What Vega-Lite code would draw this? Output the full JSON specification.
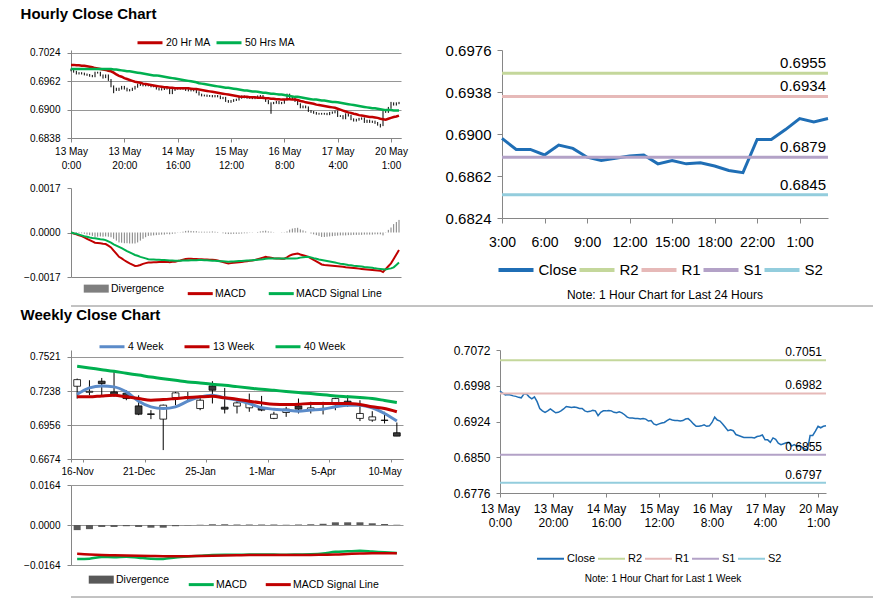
{
"$schema": "https://vega.github.io/schema/vega-lite/v6.json",
"padding": {"left": 20, "top": 6, "right": 5, "bottom": 2},
"config": {
  "font": "Liberation Sans",
  "view": {"stroke": null},
  "axis": {"labelColor": "#000000", "domainColor": "#868686", "tickColor": "#868686", "gridColor": "#969696", "gridOpacity": 1, "gridWidth": 1, "labelFont": "Liberation Sans", "labelOverlap": false},
  "legend": {"labelFont": "Liberation Sans", "labelColor": "#000000", "titleFont": "Liberation Sans", "titleColor": "#000000", "layout": {"top": {"anchor": "middle"}, "bottom": {"anchor": "middle"}}},
  "title": {"font": "Liberation Sans", "color": "#000000"}
},
"datasets": {
"hourly": [
{"i":0,"c":0.6987,"lo":0.6984,"hi":0.6990,"m20":0.6998,"m50":0.6989,"md":0,"sg":0,"dv":0},
{"i":1,"c":0.6983,"lo":0.6981,"hi":0.6989,"m20":0.6998,"m50":0.6989,"md":-0.00004,"sg":-0.00003,"dv":-0.00001},
{"i":2,"c":0.6979,"lo":0.6977,"hi":0.6985,"m20":0.6997,"m50":0.6989,"md":-0.00007,"sg":-0.00005,"dv":-0.00002},
{"i":3,"c":0.6980,"lo":0.6977,"hi":0.6982,"m20":0.6997,"m50":0.6989,"md":-0.00011,"sg":-0.00008,"dv":-0.00003},
{"i":4,"c":0.6979,"lo":0.6977,"hi":0.6982,"m20":0.6996,"m50":0.6989,"md":-0.00014,"sg":-0.00011,"dv":-0.00003},
{"i":5,"c":0.6977,"lo":0.6975,"hi":0.6981,"m20":0.6996,"m50":0.6989,"md":-0.00019,"sg":-0.00014,"dv":-0.00005},
{"i":6,"c":0.6976,"lo":0.6974,"hi":0.6979,"m20":0.6995,"m50":0.6989,"md":-0.00024,"sg":-0.00016,"dv":-0.00008},
{"i":7,"c":0.6974,"lo":0.6972,"hi":0.6978,"m20":0.6994,"m50":0.6989,"md":-0.00029,"sg":-0.00019,"dv":-0.00010},
{"i":8,"c":0.6973,"lo":0.6971,"hi":0.6976,"m20":0.6993,"m50":0.6989,"md":-0.00034,"sg":-0.00021,"dv":-0.00013},
{"i":9,"c":0.6981,"lo":0.6971,"hi":0.6983,"m20":0.6991,"m50":0.6989,"md":-0.00039,"sg":-0.00022,"dv":-0.00017},
{"i":10,"c":0.6981,"lo":0.6979,"hi":0.6983,"m20":0.6990,"m50":0.6989,"md":-0.00040,"sg":-0.00024,"dv":-0.00016},
{"i":11,"c":0.6975,"lo":0.6973,"hi":0.6983,"m20":0.6989,"m50":0.6989,"md":-0.00041,"sg":-0.00026,"dv":-0.00015},
{"i":12,"c":0.6971,"lo":0.6968,"hi":0.6977,"m20":0.6988,"m50":0.6989,"md":-0.00043,"sg":-0.00027,"dv":-0.00016},
{"i":13,"c":0.6975,"lo":0.6969,"hi":0.6977,"m20":0.6987,"m50":0.6989,"md":-0.00044,"sg":-0.00029,"dv":-0.00015},
{"i":14,"c":0.6965,"lo":0.6963,"hi":0.6977,"m20":0.6985,"m50":0.6989,"md":-0.00050,"sg":-0.00034,"dv":-0.00016},
{"i":15,"c":0.6951,"lo":0.6949,"hi":0.6967,"m20":0.6984,"m50":0.6989,"md":-0.00057,"sg":-0.00039,"dv":-0.00018},
{"i":16,"c":0.6946,"lo":0.6936,"hi":0.6953,"m20":0.6981,"m50":0.6988,"md":-0.00069,"sg":-0.00045,"dv":-0.00024},
{"i":17,"c":0.6943,"lo":0.6941,"hi":0.6948,"m20":0.6977,"m50":0.6988,"md":-0.00081,"sg":-0.00050,"dv":-0.00031},
{"i":18,"c":0.6946,"lo":0.6941,"hi":0.6948,"m20":0.6974,"m50":0.6987,"md":-0.00093,"sg":-0.00055,"dv":-0.00038},
{"i":19,"c":0.6950,"lo":0.6944,"hi":0.6952,"m20":0.6972,"m50":0.6986,"md":-0.00099,"sg":-0.00060,"dv":-0.00039},
{"i":20,"c":0.6946,"lo":0.6944,"hi":0.6952,"m20":0.6969,"m50":0.6985,"md":-0.00106,"sg":-0.00065,"dv":-0.00041},
{"i":21,"c":0.6942,"lo":0.6940,"hi":0.6948,"m20":0.6967,"m50":0.6984,"md":-0.00112,"sg":-0.00071,"dv":-0.00041},
{"i":22,"c":0.6943,"lo":0.6940,"hi":0.6945,"m20":0.6965,"m50":0.6984,"md":-0.00118,"sg":-0.00076,"dv":-0.00042},
{"i":23,"c":0.6946,"lo":0.6941,"hi":0.6948,"m20":0.6963,"m50":0.6983,"md":-0.00123,"sg":-0.00081,"dv":-0.00042},
{"i":24,"c":0.6950,"lo":0.6944,"hi":0.6952,"m20":0.6961,"m50":0.6982,"md":-0.00128,"sg":-0.00086,"dv":-0.00042},
{"i":25,"c":0.6955,"lo":0.6948,"hi":0.6957,"m20":0.6960,"m50":0.6981,"md":-0.00127,"sg":-0.00089,"dv":-0.00038},
{"i":26,"c":0.6954,"lo":0.6952,"hi":0.6957,"m20":0.6959,"m50":0.6980,"md":-0.00124,"sg":-0.00093,"dv":-0.00031},
{"i":27,"c":0.6953,"lo":0.6951,"hi":0.6956,"m20":0.6957,"m50":0.6979,"md":-0.00120,"sg":-0.00096,"dv":-0.00024},
{"i":28,"c":0.6954,"lo":0.6951,"hi":0.6956,"m20":0.6956,"m50":0.6978,"md":-0.00117,"sg":-0.00099,"dv":-0.00018},
{"i":29,"c":0.6953,"lo":0.6951,"hi":0.6956,"m20":0.6955,"m50":0.6977,"md":-0.00115,"sg":-0.00102,"dv":-0.00013},
{"i":30,"c":0.6951,"lo":0.6949,"hi":0.6955,"m20":0.6954,"m50":0.6976,"md":-0.00115,"sg":-0.00103,"dv":-0.00012},
{"i":31,"c":0.6951,"lo":0.6949,"hi":0.6953,"m20":0.6953,"m50":0.6975,"md":-0.00114,"sg":-0.00103,"dv":-0.00011},
{"i":32,"c":0.6946,"lo":0.6944,"hi":0.6953,"m20":0.6952,"m50":0.6975,"md":-0.00114,"sg":-0.00104,"dv":-0.00010},
{"i":33,"c":0.6944,"lo":0.6942,"hi":0.6948,"m20":0.6951,"m50":0.6974,"md":-0.00113,"sg":-0.00104,"dv":-0.00009},
{"i":34,"c":0.6945,"lo":0.6942,"hi":0.6947,"m20":0.6950,"m50":0.6973,"md":-0.00113,"sg":-0.00105,"dv":-0.00008},
{"i":35,"c":0.6947,"lo":0.6943,"hi":0.6949,"m20":0.6949,"m50":0.6972,"md":-0.00113,"sg":-0.00105,"dv":-0.00008},
{"i":36,"c":0.6946,"lo":0.6944,"hi":0.6949,"m20":0.6949,"m50":0.6971,"md":-0.00112,"sg":-0.00106,"dv":-0.00006},
{"i":37,"c":0.6936,"lo":0.6934,"hi":0.6948,"m20":0.6948,"m50":0.6970,"md":-0.00114,"sg":-0.00107,"dv":-0.00007},
{"i":38,"c":0.6943,"lo":0.6934,"hi":0.6945,"m20":0.6948,"m50":0.6969,"md":-0.00112,"sg":-0.00107,"dv":-0.00005},
{"i":39,"c":0.6946,"lo":0.6941,"hi":0.6948,"m20":0.6947,"m50":0.6968,"md":-0.00112,"sg":-0.00108,"dv":-0.00004},
{"i":40,"c":0.6946,"lo":0.6944,"hi":0.6948,"m20":0.6947,"m50":0.6967,"md":-0.00109,"sg":-0.00108,"dv":-0.00001},
{"i":41,"c":0.6947,"lo":0.6944,"hi":0.6949,"m20":0.6947,"m50":0.6966,"md":-0.00107,"sg":-0.00108,"dv":0.00001},
{"i":42,"c":0.6946,"lo":0.6944,"hi":0.6949,"m20":0.6947,"m50":0.6965,"md":-0.00104,"sg":-0.00107,"dv":0.00003},
{"i":43,"c":0.6943,"lo":0.6941,"hi":0.6948,"m20":0.6947,"m50":0.6964,"md":-0.00101,"sg":-0.00107,"dv":0.00006},
{"i":44,"c":0.6942,"lo":0.6940,"hi":0.6945,"m20":0.6947,"m50":0.6963,"md":-0.00100,"sg":-0.00107,"dv":0.00007},
{"i":45,"c":0.6944,"lo":0.6940,"hi":0.6946,"m20":0.6946,"m50":0.6962,"md":-0.00100,"sg":-0.00106,"dv":0.00006},
{"i":46,"c":0.6942,"lo":0.6940,"hi":0.6946,"m20":0.6945,"m50":0.6961,"md":-0.00101,"sg":-0.00106,"dv":0.00005},
{"i":47,"c":0.6938,"lo":0.6936,"hi":0.6944,"m20":0.6945,"m50":0.6960,"md":-0.00101,"sg":-0.00106,"dv":0.00005},
{"i":48,"c":0.6933,"lo":0.6931,"hi":0.6940,"m20":0.6944,"m50":0.6958,"md":-0.00102,"sg":-0.00105,"dv":0.00003},
{"i":49,"c":0.6931,"lo":0.6929,"hi":0.6935,"m20":0.6943,"m50":0.6957,"md":-0.00102,"sg":-0.00105,"dv":0.00003},
{"i":50,"c":0.6931,"lo":0.6929,"hi":0.6933,"m20":0.6942,"m50":0.6956,"md":-0.00103,"sg":-0.00106,"dv":0.00003},
{"i":51,"c":0.6930,"lo":0.6928,"hi":0.6933,"m20":0.6941,"m50":0.6955,"md":-0.00103,"sg":-0.00106,"dv":0.00003},
{"i":52,"c":0.6930,"lo":0.6928,"hi":0.6932,"m20":0.6940,"m50":0.6954,"md":-0.00104,"sg":-0.00107,"dv":0.00003},
{"i":53,"c":0.6929,"lo":0.6927,"hi":0.6932,"m20":0.6939,"m50":0.6953,"md":-0.00104,"sg":-0.00108,"dv":0.00004},
{"i":54,"c":0.6930,"lo":0.6927,"hi":0.6932,"m20":0.6938,"m50":0.6952,"md":-0.00105,"sg":-0.00108,"dv":0.00003},
{"i":55,"c":0.6929,"lo":0.6927,"hi":0.6932,"m20":0.6937,"m50":0.6951,"md":-0.00107,"sg":-0.00109,"dv":0.00002},
{"i":56,"c":0.6925,"lo":0.6923,"hi":0.6931,"m20":0.6936,"m50":0.6950,"md":-0.00110,"sg":-0.00110,"dv":0},
{"i":57,"c":0.6926,"lo":0.6923,"hi":0.6928,"m20":0.6935,"m50":0.6949,"md":-0.00113,"sg":-0.00110,"dv":-0.00003},
{"i":58,"c":0.6919,"lo":0.6917,"hi":0.6928,"m20":0.6934,"m50":0.6948,"md":-0.00116,"sg":-0.00111,"dv":-0.00005},
{"i":59,"c":0.6917,"lo":0.6915,"hi":0.6921,"m20":0.6933,"m50":0.6948,"md":-0.00118,"sg":-0.00112,"dv":-0.00006},
{"i":60,"c":0.6919,"lo":0.6915,"hi":0.6921,"m20":0.6932,"m50":0.6947,"md":-0.00117,"sg":-0.00111,"dv":-0.00006},
{"i":61,"c":0.6921,"lo":0.6917,"hi":0.6923,"m20":0.6931,"m50":0.6946,"md":-0.00116,"sg":-0.00111,"dv":-0.00005},
{"i":62,"c":0.6922,"lo":0.6919,"hi":0.6924,"m20":0.6930,"m50":0.6945,"md":-0.00115,"sg":-0.00110,"dv":-0.00005},
{"i":63,"c":0.6926,"lo":0.6920,"hi":0.6928,"m20":0.6929,"m50":0.6944,"md":-0.00114,"sg":-0.00109,"dv":-0.00005},
{"i":64,"c":0.6929,"lo":0.6924,"hi":0.6931,"m20":0.6928,"m50":0.6943,"md":-0.00113,"sg":-0.00109,"dv":-0.00004},
{"i":65,"c":0.6927,"lo":0.6925,"hi":0.6931,"m20":0.6928,"m50":0.6942,"md":-0.00111,"sg":-0.00108,"dv":-0.00003},
{"i":66,"c":0.6926,"lo":0.6924,"hi":0.6929,"m20":0.6928,"m50":0.6942,"md":-0.00110,"sg":-0.00107,"dv":-0.00003},
{"i":67,"c":0.6926,"lo":0.6924,"hi":0.6928,"m20":0.6927,"m50":0.6941,"md":-0.00108,"sg":-0.00107,"dv":-0.00001},
{"i":68,"c":0.6925,"lo":0.6923,"hi":0.6928,"m20":0.6927,"m50":0.6940,"md":-0.00107,"sg":-0.00106,"dv":-0.00001},
{"i":69,"c":0.6926,"lo":0.6923,"hi":0.6928,"m20":0.6927,"m50":0.6940,"md":-0.00105,"sg":-0.00105,"dv":0},
{"i":70,"c":0.6929,"lo":0.6924,"hi":0.6931,"m20":0.6926,"m50":0.6939,"md":-0.00102,"sg":-0.00104,"dv":0.00002},
{"i":71,"c":0.6930,"lo":0.6927,"hi":0.6932,"m20":0.6926,"m50":0.6938,"md":-0.00099,"sg":-0.00103,"dv":0.00004},
{"i":72,"c":0.6925,"lo":0.6923,"hi":0.6932,"m20":0.6926,"m50":0.6937,"md":-0.00096,"sg":-0.00102,"dv":0.00006},
{"i":73,"c":0.6919,"lo":0.6917,"hi":0.6927,"m20":0.6925,"m50":0.6937,"md":-0.00093,"sg":-0.00100,"dv":0.00007},
{"i":74,"c":0.6914,"lo":0.6912,"hi":0.6921,"m20":0.6925,"m50":0.6936,"md":-0.00095,"sg":-0.00099,"dv":0.00004},
{"i":75,"c":0.6914,"lo":0.6891,"hi":0.6916,"m20":0.6924,"m50":0.6935,"md":-0.00096,"sg":-0.00099,"dv":0.00003},
{"i":76,"c":0.6915,"lo":0.6912,"hi":0.6917,"m20":0.6924,"m50":0.6935,"md":-0.00098,"sg":-0.00099,"dv":0.00001},
{"i":77,"c":0.6917,"lo":0.6913,"hi":0.6919,"m20":0.6923,"m50":0.6934,"md":-0.00099,"sg":-0.00099,"dv":0},
{"i":78,"c":0.6914,"lo":0.6912,"hi":0.6919,"m20":0.6923,"m50":0.6933,"md":-0.00099,"sg":-0.00099,"dv":0},
{"i":79,"c":0.6915,"lo":0.6912,"hi":0.6917,"m20":0.6922,"m50":0.6933,"md":-0.00100,"sg":-0.00099,"dv":-0.00001},
{"i":80,"c":0.6922,"lo":0.6913,"hi":0.6924,"m20":0.6922,"m50":0.6932,"md":-0.00100,"sg":-0.00099,"dv":-0.00001},
{"i":81,"c":0.6933,"lo":0.6920,"hi":0.6935,"m20":0.6923,"m50":0.6931,"md":-0.00095,"sg":-0.00099,"dv":0.00004},
{"i":82,"c":0.6927,"lo":0.6925,"hi":0.6935,"m20":0.6923,"m50":0.6930,"md":-0.00088,"sg":-0.00099,"dv":0.00011},
{"i":83,"c":0.6925,"lo":0.6923,"hi":0.6929,"m20":0.6922,"m50":0.6929,"md":-0.00084,"sg":-0.00099,"dv":0.00015},
{"i":84,"c":0.6919,"lo":0.6917,"hi":0.6927,"m20":0.6922,"m50":0.6928,"md":-0.00082,"sg":-0.00099,"dv":0.00017},
{"i":85,"c":0.6912,"lo":0.6910,"hi":0.6921,"m20":0.6921,"m50":0.6928,"md":-0.00080,"sg":-0.00098,"dv":0.00018},
{"i":86,"c":0.6905,"lo":0.6903,"hi":0.6914,"m20":0.6919,"m50":0.6927,"md":-0.00084,"sg":-0.00096,"dv":0.00012},
{"i":87,"c":0.6907,"lo":0.6903,"hi":0.6909,"m20":0.6918,"m50":0.6926,"md":-0.00087,"sg":-0.00095,"dv":0.00008},
{"i":88,"c":0.6905,"lo":0.6903,"hi":0.6909,"m20":0.6916,"m50":0.6925,"md":-0.00090,"sg":-0.00094,"dv":0.00004},
{"i":89,"c":0.6897,"lo":0.6895,"hi":0.6907,"m20":0.6915,"m50":0.6924,"md":-0.00093,"sg":-0.00093,"dv":0},
{"i":90,"c":0.6895,"lo":0.6893,"hi":0.6899,"m20":0.6914,"m50":0.6923,"md":-0.00099,"sg":-0.00095,"dv":-0.00004},
{"i":91,"c":0.6893,"lo":0.6891,"hi":0.6897,"m20":0.6913,"m50":0.6922,"md":-0.00105,"sg":-0.00098,"dv":-0.00007},
{"i":92,"c":0.6891,"lo":0.6889,"hi":0.6895,"m20":0.6911,"m50":0.6922,"md":-0.00110,"sg":-0.00100,"dv":-0.00010},
{"i":93,"c":0.6891,"lo":0.6889,"hi":0.6893,"m20":0.6910,"m50":0.6921,"md":-0.00116,"sg":-0.00103,"dv":-0.00013},
{"i":94,"c":0.6891,"lo":0.6889,"hi":0.6893,"m20":0.6909,"m50":0.6920,"md":-0.00122,"sg":-0.00105,"dv":-0.00017},
{"i":95,"c":0.6891,"lo":0.6889,"hi":0.6893,"m20":0.6908,"m50":0.6920,"md":-0.00124,"sg":-0.00107,"dv":-0.00017},
{"i":96,"c":0.6890,"lo":0.6888,"hi":0.6893,"m20":0.6907,"m50":0.6919,"md":-0.00125,"sg":-0.00109,"dv":-0.00016},
{"i":97,"c":0.6893,"lo":0.6888,"hi":0.6895,"m20":0.6906,"m50":0.6918,"md":-0.00126,"sg":-0.00111,"dv":-0.00015},
{"i":98,"c":0.6894,"lo":0.6891,"hi":0.6896,"m20":0.6905,"m50":0.6917,"md":-0.00127,"sg":-0.00113,"dv":-0.00014},
{"i":99,"c":0.6896,"lo":0.6892,"hi":0.6898,"m20":0.6904,"m50":0.6917,"md":-0.00128,"sg":-0.00115,"dv":-0.00013},
{"i":100,"c":0.6886,"lo":0.6884,"hi":0.6898,"m20":0.6902,"m50":0.6916,"md":-0.00129,"sg":-0.00117,"dv":-0.00012},
{"i":101,"c":0.6886,"lo":0.6884,"hi":0.6888,"m20":0.6900,"m50":0.6915,"md":-0.00130,"sg":-0.00119,"dv":-0.00011},
{"i":102,"c":0.6881,"lo":0.6879,"hi":0.6888,"m20":0.6898,"m50":0.6914,"md":-0.00131,"sg":-0.00120,"dv":-0.00011},
{"i":103,"c":0.6890,"lo":0.6879,"hi":0.6892,"m20":0.6896,"m50":0.6913,"md":-0.00133,"sg":-0.00122,"dv":-0.00011},
{"i":104,"c":0.6887,"lo":0.6885,"hi":0.6892,"m20":0.6894,"m50":0.6912,"md":-0.00134,"sg":-0.00124,"dv":-0.00010},
{"i":105,"c":0.6879,"lo":0.6877,"hi":0.6889,"m20":0.6893,"m50":0.6911,"md":-0.00135,"sg":-0.00125,"dv":-0.00010},
{"i":106,"c":0.6876,"lo":0.6874,"hi":0.6881,"m20":0.6891,"m50":0.6910,"md":-0.00136,"sg":-0.00127,"dv":-0.00009},
{"i":107,"c":0.6878,"lo":0.6874,"hi":0.6880,"m20":0.6890,"m50":0.6909,"md":-0.00137,"sg":-0.00128,"dv":-0.00009},
{"i":108,"c":0.6880,"lo":0.6876,"hi":0.6882,"m20":0.6888,"m50":0.6908,"md":-0.00138,"sg":-0.00129,"dv":-0.00009},
{"i":109,"c":0.6881,"lo":0.6878,"hi":0.6883,"m20":0.6887,"m50":0.6907,"md":-0.00139,"sg":-0.00130,"dv":-0.00009},
{"i":110,"c":0.6873,"lo":0.6871,"hi":0.6883,"m20":0.6886,"m50":0.6906,"md":-0.00140,"sg":-0.00132,"dv":-0.00008},
{"i":111,"c":0.6876,"lo":0.6871,"hi":0.6878,"m20":0.6885,"m50":0.6905,"md":-0.00141,"sg":-0.00133,"dv":-0.00008},
{"i":112,"c":0.6873,"lo":0.6871,"hi":0.6878,"m20":0.6884,"m50":0.6904,"md":-0.00142,"sg":-0.00134,"dv":-0.00008},
{"i":113,"c":0.6874,"lo":0.6871,"hi":0.6876,"m20":0.6884,"m50":0.6903,"md":-0.00143,"sg":-0.00135,"dv":-0.00008},
{"i":114,"c":0.6871,"lo":0.6869,"hi":0.6876,"m20":0.6883,"m50":0.6903,"md":-0.00144,"sg":-0.00137,"dv":-0.00007},
{"i":115,"c":0.6867,"lo":0.6865,"hi":0.6873,"m20":0.6882,"m50":0.6902,"md":-0.00145,"sg":-0.00138,"dv":-0.00007},
{"i":116,"c":0.6865,"lo":0.6861,"hi":0.6869,"m20":0.6880,"m50":0.6901,"md":-0.00146,"sg":-0.00139,"dv":-0.00007},
{"i":117,"c":0.6895,"lo":0.6864,"hi":0.6897,"m20":0.6879,"m50":0.6900,"md":-0.00151,"sg":-0.00140,"dv":-0.00011},
{"i":118,"c":0.6895,"lo":0.6893,"hi":0.6897,"m20":0.6878,"m50":0.6899,"md":-0.00140,"sg":-0.00141,"dv":0.00001},
{"i":119,"c":0.6904,"lo":0.6893,"hi":0.6906,"m20":0.6880,"m50":0.6899,"md":-0.00129,"sg":-0.00139,"dv":0.00010},
{"i":120,"c":0.6914,"lo":0.6902,"hi":0.6917,"m20":0.6882,"m50":0.6899,"md":-0.00118,"sg":-0.00137,"dv":0.00019},
{"i":121,"c":0.6911,"lo":0.6909,"hi":0.6916,"m20":0.6884,"m50":0.6898,"md":-0.00101,"sg":-0.00133,"dv":0.00032},
{"i":122,"c":0.6914,"lo":0.6909,"hi":0.6916,"m20":0.6885,"m50":0.6898,"md":-0.00084,"sg":-0.00124,"dv":0.00040},
{"i":123,"c":0.6915,"lo":0.6912,"hi":0.6917,"m20":0.6887,"m50":0.6898,"md":-0.00067,"sg":-0.00115,"dv":0.00048}
],
"h24": [
{"h":"3:00","c":0.6896},{"h":"4:00","c":0.6886},{"h":"5:00","c":0.6886},{"h":"6:00","c":0.6881},
{"h":"7:00","c":0.6890},{"h":"8:00","c":0.6887},{"h":"9:00","c":0.6879},{"h":"10:00","c":0.6876},
{"h":"11:00","c":0.6878},{"h":"12:00","c":0.6880},{"h":"13:00","c":0.6881},{"h":"14:00","c":0.6873},
{"h":"15:00","c":0.6876},{"h":"16:00","c":0.6873},{"h":"17:00","c":0.6874},{"h":"18:00","c":0.6871},
{"h":"19:00","c":0.6867},{"h":"20:00","c":0.6865},{"h":"22:00","c":0.6895},{"h":"23:00","c":0.6895},
{"h":"0:00","c":0.6904},{"h":"1:00","c":0.6914},{"h":"2:00","c":0.6911},{"h":"3:00 ","c":0.6914}
],
"lv24": [
{"name":"R2","v":0.6955},{"name":"R1","v":0.6934},{"name":"S1","v":0.6879},{"name":"S2","v":0.6845}
],
"lvwk": [
{"name":"R2","v":0.7051},{"name":"R1","v":0.6982},{"name":"S1","v":0.6855},{"name":"S2","v":0.6797}
],
"weekly": [
{"w":"16-Nov","o":0.7278,"h":0.7342,"l":0.7176,"c":0.7333,"m4":0.7212,"m13":0.7190,"m40":0.7444,"md":-0.0139,"sg":-0.0118,"dv":-0.0021},
{"w":"23-Nov","o":0.7228,"h":0.7328,"l":0.7204,"c":0.7236,"m4":0.7264,"m13":0.7190,"m40":0.7430,"md":-0.0138,"sg":-0.0121,"dv":-0.0017},
{"w":"30-Nov","o":0.7320,"h":0.7347,"l":0.7199,"c":0.7300,"m4":0.7281,"m13":0.7198,"m40":0.7416,"md":-0.0131,"sg":-0.0123,"dv":-0.0008},
{"w":"7-Dec","o":0.7231,"h":0.7397,"l":0.7190,"c":0.7209,"m4":0.7273,"m13":0.7204,"m40":0.7402,"md":-0.0132,"sg":-0.0124,"dv":-0.0008},
{"w":"14-Dec","o":0.7220,"h":0.7245,"l":0.7162,"c":0.7176,"m4":0.7231,"m13":0.7190,"m40":0.7386,"md":-0.0130,"sg":-0.0125,"dv":-0.0005},
{"w":"21-Dec","o":0.7115,"h":0.7203,"l":0.7038,"c":0.7046,"m4":0.7154,"m13":0.7176,"m40":0.7371,"md":-0.0134,"sg":-0.0126,"dv":-0.0008},
{"w":"28-Dec","o":0.7049,"h":0.7080,"l":0.7005,"c":0.7044,"m4":0.7107,"m13":0.7162,"m40":0.7355,"md":-0.0138,"sg":-0.0127,"dv":-0.0011},
{"w":"4-Jan","o":0.7005,"h":0.7126,"l":0.6748,"c":0.7121,"m4":0.7093,"m13":0.7168,"m40":0.7341,"md":-0.0139,"sg":-0.0128,"dv":-0.0011},
{"w":"11-Jan","o":0.7184,"h":0.7231,"l":0.7121,"c":0.7223,"m4":0.7107,"m13":0.7176,"m40":0.7328,"md":-0.0133,"sg":-0.0128,"dv":-0.0005},
{"w":"18-Jan","o":0.7190,"h":0.7231,"l":0.7149,"c":0.7184,"m4":0.7154,"m13":0.7184,"m40":0.7314,"md":-0.0129,"sg":-0.0128,"dv":-0.0001},
{"w":"25-Jan","o":0.7093,"h":0.7182,"l":0.7079,"c":0.7162,"m4":0.7190,"m13":0.7190,"m40":0.7305,"md":-0.0126,"sg":-0.0127,"dv":0.0001},
{"w":"1-Feb","o":0.7281,"h":0.7320,"l":0.7135,"c":0.7245,"m4":0.7204,"m13":0.7195,"m40":0.7295,"md":-0.0123,"sg":-0.0126,"dv":0.0003},
{"w":"8-Feb","o":0.7104,"h":0.7264,"l":0.7052,"c":0.7088,"m4":0.7182,"m13":0.7182,"m40":0.7286,"md":-0.0122,"sg":-0.0125,"dv":0.0003},
{"w":"15-Feb","o":0.7113,"h":0.7162,"l":0.7052,"c":0.7140,"m4":0.7162,"m13":0.7171,"m40":0.7275,"md":-0.0122,"sg":-0.0124,"dv":0.0002},
{"w":"22-Feb","o":0.7099,"h":0.7217,"l":0.7066,"c":0.7135,"m4":0.7135,"m13":0.7154,"m40":0.7264,"md":-0.0121,"sg":-0.0123,"dv":0.0002},
{"w":"1-Mar","o":0.7099,"h":0.7198,"l":0.7071,"c":0.7080,"m4":0.7099,"m13":0.7140,"m40":0.7253,"md":-0.0121,"sg":-0.0123,"dv":0.0002},
{"w":"8-Mar","o":0.7011,"h":0.7066,"l":0.7005,"c":0.7046,"m4":0.7088,"m13":0.7129,"m40":0.7244,"md":-0.0121,"sg":-0.0123,"dv":0.0002},
{"w":"15-Mar","o":0.7060,"h":0.7107,"l":0.7024,"c":0.7088,"m4":0.7080,"m13":0.7126,"m40":0.7235,"md":-0.0122,"sg":-0.0123,"dv":0.0001},
{"w":"22-Mar","o":0.7115,"h":0.7176,"l":0.7052,"c":0.7088,"m4":0.7071,"m13":0.7129,"m40":0.7226,"md":-0.0121,"sg":-0.0123,"dv":0.0002},
{"w":"29-Mar","o":0.7085,"h":0.7149,"l":0.7052,"c":0.7099,"m4":0.7080,"m13":0.7135,"m40":0.7217,"md":-0.0120,"sg":-0.0123,"dv":0.0003},
{"w":"5-Apr","o":0.7094,"h":0.7149,"l":0.7044,"c":0.7092,"m4":0.7088,"m13":0.7135,"m40":0.7207,"md":-0.0117,"sg":-0.0122,"dv":0.0005},
{"w":"12-Apr","o":0.7126,"h":0.7182,"l":0.7079,"c":0.7176,"m4":0.7107,"m13":0.7135,"m40":0.7198,"md":-0.0110,"sg":-0.0121,"dv":0.0011},
{"w":"19-Apr","o":0.7154,"h":0.7203,"l":0.7107,"c":0.7140,"m4":0.7121,"m13":0.7135,"m40":0.7191,"md":-0.0108,"sg":-0.0119,"dv":0.0011},
{"w":"26-Apr","o":0.7011,"h":0.7162,"l":0.6989,"c":0.7052,"m4":0.7121,"m13":0.7126,"m40":0.7184,"md":-0.0106,"sg":-0.0117,"dv":0.0011},
{"w":"3-May","o":0.6997,"h":0.7071,"l":0.6983,"c":0.7024,"m4":0.7099,"m13":0.7107,"m40":0.7176,"md":-0.0109,"sg":-0.0116,"dv":0.0007},
{"w":"10-May","o":0.6997,"h":0.7066,"l":0.6969,"c":0.6994,"m4":0.7052,"m13":0.7093,"m40":0.7160,"md":-0.0112,"sg":-0.0116,"dv":0.0004},
{"w":"17-May","o":0.6892,"h":0.6977,"l":0.6864,"c":0.6864,"m4":0.6989,"m13":0.7066,"m40":0.7143,"md":-0.0115,"sg":-0.0116,"dv":0.0001}
]
},
"spacing": 0,
"resolve": {"scale": {"color": "independent", "fill": "independent"}, "legend": {"color": "independent"}},
"vconcat": [
{
  "title": {"text": "Hourly Close Chart", "anchor": "start", "fontSize": 15, "fontWeight": "bold", "offset": 14.5, "dx": -3},
  "spacing": 37,
  "resolve": {"scale": {"color": "independent"}, "legend": {"color": "independent"}},
  "hconcat": [
    {
      "bounds": "flush",
      "spacing": 50,
      "resolve": {"scale": {"color": "independent"}, "legend": {"color": "independent"}},
      "vconcat": [
        {
          "width": 330, "height": 88,
          "data": {"name": "hourly"},
          "encoding": {"x": {"field": "i", "type": "quantitative", "title": null,
            "scale": {"domain": [0, 123.75], "nice": false, "zero": false},
            "axis": {"values": [0,20,40,60,80,100,120], "tickCount": 20, "labelExpr": "[['13 May','0:00'],['13 May','20:00'],['14 May','16:00'],['15 May','12:00'],['16 May','8:00'],['17 May','4:00'],['20 May','1:00']][round(datum.value/20)]", "labelFontSize": 10, "labelLineHeight": 14, "labelPadding": 4, "tickSize": 4, "grid": false, "labelFlush": false, "labelOverlap": false}}},
          "layer": [
            {"mark": {"type": "rule", "color": "#000000", "strokeWidth": 1},
             "encoding": {"y": {"field": "lo", "type": "quantitative", "title": null, "scale": {"domain": [0.6838, 0.703056], "nice": false, "zero": false},
               "axis": {"values": [0.6838, 0.69, 0.6962, 0.7024], "tickCount": 10, "format": ".4f", "grid": true, "labelFontSize": 10, "tickSize": 4, "labelPadding": 7}},
               "y2": {"field": "hi"}}},
            {"mark": {"type": "line", "strokeWidth": 2.5},
             "encoding": {"y": {"field": "m20", "type": "quantitative"},
               "color": {"datum": "20 Hr MA", "type": "nominal", "scale": {"domain": ["20 Hr MA", "50 Hrs MA"], "range": ["#C00000", "#00B050"]},
                 "legend": {"orient": "none", "legendX": 72.5, "legendY": -14, "direction": "horizontal", "title": null, "labelFontSize": 10.5, "symbolType": "M-2.5,0H2.5", "symbolStrokeWidth": 3, "symbolSize": 100, "columnPadding": 0, "labelOffset": 9.5,
                   "encode": {"symbols": {"update": {"strokeWidth": {"value": 3}}}}}}}},
            {"mark": {"type": "line", "strokeWidth": 2.5},
             "encoding": {"y": {"field": "m50", "type": "quantitative"}, "color": {"datum": "50 Hrs MA", "type": "nominal"}}}
          ]
        },
        {
          "width": 330, "height": 89,
          "data": {"name": "hourly"},
          "encoding": {"x": {"field": "i", "type": "quantitative", "title": null,
            "scale": {"domain": [0, 123.75], "nice": false, "zero": false},
            "axis": {"labels": false, "ticks": false, "grid": false, "domain": true}}},
          "layer": [
            {"mark": {"type": "rule", "strokeWidth": 1},
             "encoding": {"y": {"field": "dv", "type": "quantitative", "title": null, "scale": {"domain": [-0.0017, 0.0017], "nice": false, "zero": false},
               "axis": {"values": [-0.0017, 0, 0.0017], "tickCount": 10, "format": ".4f", "grid": false, "labelFontSize": 10, "tickSize": 4, "labelPadding": 7}},
               "y2": {"datum": 0},
               "color": {"datum": "Divergence", "type": "nominal", "scale": {"domain": ["Divergence", "MACD", "MACD Signal Line"], "range": ["#7F7F7F", "#C00000", "#00B050"]},
                 "legend": {"orient": "bottom", "direction": "horizontal", "title": null, "labelFontSize": 10.5, "symbolType": "M-2.5,0H2.5", "symbolStrokeWidth": 3, "symbolSize": 100, "columnPadding": 16, "labelOffset": 9.5, "offset": 6,
                   "encode": {"symbols": {"update": {"strokeWidth": {"signal": "datum.label === 'Divergence' ? 8 : 3"}}}}}}}},
            {"mark": {"type": "line", "strokeWidth": 2},
             "encoding": {"y": {"field": "md", "type": "quantitative"}, "color": {"datum": "MACD", "type": "nominal"}}},
            {"mark": {"type": "line", "strokeWidth": 2},
             "encoding": {"y": {"field": "sg", "type": "quantitative"}, "color": {"datum": "MACD Signal Line", "type": "nominal"}}}
          ]
        }
      ]
    },
    {
      "width": 326, "height": 168,
      "layer": [
        {"data": {"name": "h24"}, "mark": {"type": "line", "strokeWidth": 3},
         "encoding": {
           "x": {"field": "h", "type": "ordinal", "title": null,
             "scale": {"type": "point", "padding": 0, "domain": ["3:00","4:00","5:00","6:00","7:00","8:00","9:00","10:00","11:00","12:00","13:00","14:00","15:00","16:00","17:00","18:00","19:00","20:00","22:00","23:00","0:00","1:00","2:00","3:00 "]},
             "axis": {"values": ["3:00","6:00","9:00","12:00","15:00","18:00","22:00","1:00"], "labelAngle": 0, "labelFontSize": 14, "tickSize": 5, "labelPadding": 12, "grid": false, "labelOverlap": false}},
           "y": {"field": "c", "type": "quantitative", "title": null, "scale": {"domain": [0.6824, 0.6976], "nice": false, "zero": false},
             "axis": {"values": [0.6824, 0.6862, 0.69, 0.6938, 0.6976], "tickCount": 10, "format": ".4f", "grid": false, "labelFontSize": 15, "tickSize": 5, "labelPadding": 6}},
           "color": {"datum": "Close", "type": "nominal", "scale": {"domain": ["Close", "R2", "R1", "S1", "S2"], "range": ["#1F6EB5", "#C4D79B", "#E6B9B8", "#B3A2C7", "#93CDDD"]},
             "legend": {"orient": "bottom", "direction": "horizontal", "title": "Note: 1 Hour Chart for Last 24 Hours", "titleOrient": "bottom", "titleAnchor": "middle", "titleFontSize": 12, "titleFontWeight": "normal", "titlePadding": 12, "titleLimit": 500,
               "labelFontSize": 15, "symbolType": "M-2.5,0H2.5", "symbolStrokeWidth": 4, "symbolSize": 196, "columnPadding": -6, "labelOffset": 13.5, "offset": 12,
               "encode": {"symbols": {"update": {"strokeWidth": {"value": 4}}}}}}}},
        {"data": {"name": "lv24"}, "mark": {"type": "rule", "strokeWidth": 3},
         "encoding": {"y": {"field": "v", "type": "quantitative"}, "color": {"field": "name", "type": "nominal"}}},
        {"data": {"name": "lv24"}, "mark": {"type": "text", "align": "right", "baseline": "alphabetic", "dx": -2, "dy": -5, "fontSize": 15, "color": "#000000"},
         "encoding": {"x": {"datum": "3:00 "}, "y": {"field": "v", "type": "quantitative"}, "text": {"field": "v", "type": "quantitative", "format": ".4f"}}}
      ]
    }
  ]
},
{
  "width": 845, "height": 1,
  "data": {"values": [{"s": 1}]},
  "mark": {"type": "rule", "color": "#868686", "strokeWidth": 1},
  "encoding": {"y": {"field": "s", "type": "quantitative", "scale": {"domain": [0, 1]}, "axis": null}}
},
{
  "title": {"text": "Weekly Close Chart", "anchor": "start", "fontSize": 15, "fontWeight": "bold", "offset": 17.5, "dx": -3},
  "spacing": 50,
  "resolve": {"scale": {"color": "independent", "fill": "independent"}, "legend": {"color": "independent"}},
  "hconcat": [
    {
      "bounds": "flush",
      "spacing": 26,
      "resolve": {"scale": {"color": "independent", "fill": "independent"}, "legend": {"color": "independent"}},
      "vconcat": [
        {
          "width": 332, "height": 109,
          "data": {"name": "weekly"},
          "encoding": {"x": {"field": "w", "type": "ordinal", "sort": null, "title": null,
            "scale": {"paddingInner": 0, "paddingOuter": 0},
            "axis": {"values": ["16-Nov", "21-Dec", "25-Jan", "1-Mar", "5-Apr", "10-May"], "labelAngle": 0, "labelFontSize": 10, "tickSize": 3, "labelPadding": 4, "tickBand": "extent", "grid": false}}},
          "layer": [
            {"mark": {"type": "rule", "color": "#000000", "strokeWidth": 1},
             "encoding": {"y": {"field": "l", "type": "quantitative", "title": null, "scale": {"domain": [0.6674, 0.75791], "nice": false, "zero": false},
               "axis": {"values": [0.6674, 0.6956, 0.7238, 0.7521], "tickCount": 10, "format": ".4f", "grid": true, "labelFontSize": 10, "tickSize": 4, "labelPadding": 7}},
               "y2": {"field": "h"}}},
            {"mark": {"type": "bar", "width": {"band": 0.55}, "stroke": "#000000", "strokeWidth": 0.8},
             "encoding": {"y": {"field": "o", "type": "quantitative"}, "y2": {"field": "c"},
               "fill": {"condition": {"test": "datum.c >= datum.o", "value": "#FFFFFF"}, "value": "#3A3A3A"}}},
            {"mark": {"type": "line", "strokeWidth": 3, "interpolate": "monotone"},
             "encoding": {"y": {"field": "m4", "type": "quantitative"},
               "color": {"datum": "4 Week", "type": "nominal", "scale": {"domain": ["4 Week", "13 Week", "40 Week"], "range": ["#5B8BC9", "#C00000", "#00B050"]},
                 "legend": {"orient": "none", "legendX": 34.5, "legendY": -10, "direction": "horizontal", "title": null, "labelFontSize": 10.5, "symbolType": "M-2.5,0H2.5", "symbolStrokeWidth": 3, "symbolSize": 100, "columnPadding": 15, "labelOffset": 9.5,
                   "encode": {"symbols": {"update": {"strokeWidth": {"value": 3}}}}}}}},
            {"mark": {"type": "line", "strokeWidth": 3, "interpolate": "monotone"},
             "encoding": {"y": {"field": "m13", "type": "quantitative"}, "color": {"datum": "13 Week", "type": "nominal"}}},
            {"mark": {"type": "line", "strokeWidth": 3, "interpolate": "monotone"},
             "encoding": {"y": {"field": "m40", "type": "quantitative"}, "color": {"datum": "40 Week", "type": "nominal"}}}
          ]
        },
        {
          "width": 332, "height": 80,
          "data": {"name": "weekly"},
          "encoding": {"x": {"field": "w", "type": "ordinal", "sort": null, "title": null,
            "scale": {"paddingInner": 0, "paddingOuter": 0}, "axis": null}},
          "layer": [
            {"mark": {"type": "rule", "strokeWidth": 7},
             "encoding": {"y": {"field": "dv", "type": "quantitative", "title": null, "scale": {"domain": [-0.0164, 0.0164], "nice": false, "zero": false},
               "axis": {"values": [-0.0164, 0, 0.0164], "tickCount": 10, "format": ".4f", "grid": true, "labelFontSize": 10, "tickSize": 4, "labelPadding": 7}},
               "y2": {"datum": 0},
               "color": {"datum": "Divergence", "type": "nominal", "scale": {"domain": ["Divergence", "MACD", "MACD Signal Line"], "range": ["#595959", "#00B050", "#C00000"]},
                 "legend": {"orient": "bottom", "direction": "horizontal", "title": null, "labelFontSize": 10.5, "symbolType": "M-2.5,0H2.5", "symbolStrokeWidth": 3, "symbolSize": 100, "columnPadding": 12, "labelOffset": 9.5, "offset": 9,
                   "encode": {"symbols": {"update": {"strokeWidth": {"signal": "datum.label === 'Divergence' ? 8 : 3"}}}}}}}},
            {"mark": {"type": "line", "strokeWidth": 2.5, "interpolate": "monotone"},
             "encoding": {"y": {"field": "md", "type": "quantitative"}, "color": {"datum": "MACD", "type": "nominal"}}},
            {"mark": {"type": "line", "strokeWidth": 2.5, "interpolate": "monotone"},
             "encoding": {"y": {"field": "sg", "type": "quantitative"}, "color": {"datum": "MACD Signal Line", "type": "nominal"}}}
          ]
        }
      ]
    },
    {
      "width": 326, "height": 143,
      "layer": [
        {"data": {"name": "hourly"}, "mark": {"type": "line", "strokeWidth": 1.5},
         "encoding": {
           "x": {"field": "i", "type": "quantitative", "title": null, "scale": {"domain": [0, 123], "nice": false, "zero": false},
             "axis": {"values": [0,20,40,60,80,100,120], "tickCount": 20, "labelExpr": "[['13 May','0:00'],['13 May','20:00'],['14 May','16:00'],['15 May','12:00'],['16 May','8:00'],['17 May','4:00'],['20 May','1:00']][round(datum.value/20)]", "labelFontSize": 12, "labelLineHeight": 14, "labelPadding": 6, "tickSize": 4, "grid": false, "labelFlush": false, "labelOverlap": false}},
           "y": {"field": "c", "type": "quantitative", "title": null, "scale": {"domain": [0.6776, 0.7072], "nice": false, "zero": false},
             "axis": {"values": [0.6776, 0.685, 0.6924, 0.6998, 0.7072], "tickCount": 10, "format": ".4f", "grid": false, "labelFontSize": 12, "tickSize": 4, "labelPadding": 6}},
           "color": {"datum": "Close", "type": "nominal", "scale": {"domain": ["Close", "R2", "R1", "S1", "S2"], "range": ["#1F6EB5", "#C4D79B", "#E6B9B8", "#B3A2C7", "#93CDDD"]},
             "legend": {"orient": "bottom", "direction": "horizontal", "title": "Note: 1 Hour Chart for Last 1 Week", "titleOrient": "bottom", "titleAnchor": "middle", "titleFontSize": 10, "titleFontWeight": "normal", "titlePadding": 10, "titleLimit": 500,
               "labelFontSize": 11, "symbolType": "M-2.45,0H2.45", "symbolStrokeWidth": 2, "symbolSize": 121, "columnPadding": -2, "labelOffset": 10, "offset": 24,
               "encode": {"symbols": {"update": {"strokeWidth": {"value": 2}}}}}}}},
        {"data": {"name": "lvwk"}, "mark": {"type": "rule", "strokeWidth": 2},
         "encoding": {"y": {"field": "v", "type": "quantitative"}, "color": {"field": "name", "type": "nominal"}}},
        {"data": {"name": "lvwk"}, "mark": {"type": "text", "align": "right", "baseline": "alphabetic", "dx": -4, "dy": -4, "fontSize": 12, "color": "#000000"},
         "encoding": {"x": {"datum": 123}, "y": {"field": "v", "type": "quantitative"}, "text": {"field": "v", "type": "quantitative", "format": ".4f"}}}
      ]
    }
  ]
},
{
  "width": 845, "height": 3,
  "data": {"values": [{"s": 1}]},
  "mark": {"type": "rule", "color": "#868686", "strokeWidth": 1},
  "encoding": {"y": {"field": "s", "type": "quantitative", "scale": {"domain": [0, 1]}, "axis": null}}
}
]
}
